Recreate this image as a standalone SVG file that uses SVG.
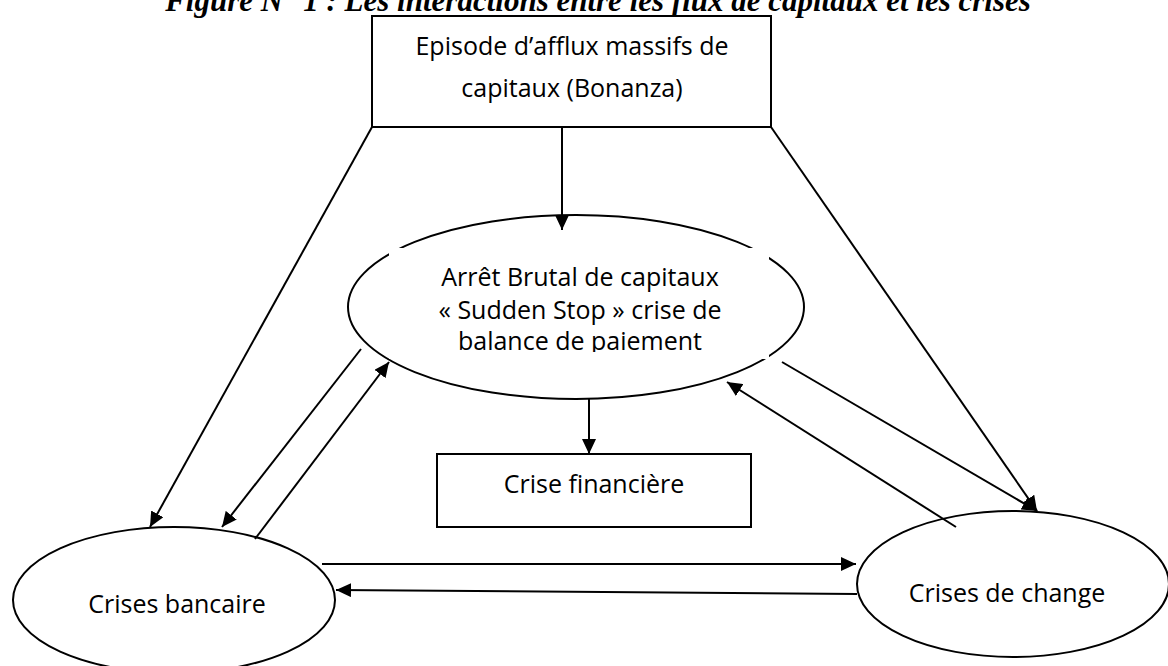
<svg xmlns="http://www.w3.org/2000/svg" width="1168" height="666" viewBox="0 0 1168 666">
<style>
.box{fill:#fff;stroke:#000;stroke-width:2}
.lbl{font-family:"Open Sans","Liberation Sans",sans-serif;font-size:25px;fill:#000;text-anchor:middle}
.title{font-family:"Liberation Serif","Times New Roman",serif;font-size:31px;font-weight:bold;font-style:italic;fill:#000;text-anchor:middle}
.cn line{stroke:#000;stroke-width:2;marker-end:url(#ah)}
</style>
<defs>
<marker id="ah" markerUnits="userSpaceOnUse" markerWidth="16" markerHeight="14" refX="15" refY="7" orient="auto">
<path d="M0,0 L15,7 L0,14 z" fill="#000"/>
</marker>
<clipPath id="ctext"><rect x="389" y="248" width="380" height="104"/></clipPath>
</defs>
<rect width="1168" height="666" fill="#fff"/>
<text class="title" x="598" y="11">Figure N° 1 : Les interactions entre les flux de capitaux et les crises</text>

<g id="n-bonanza">
<rect class="box" x="372" y="16" width="399" height="111"/>
<text class="lbl" x="572" y="55">Episode d’afflux massifs de</text>
<text class="lbl" x="572" y="97">capitaux (Bonanza)</text>
</g>

<g id="n-suddenstop">
<ellipse class="box" cx="576" cy="307" rx="228" ry="92"/>
<rect x="389" y="248" width="380" height="111" fill="#fff"/>
<g clip-path="url(#ctext)">
<text class="lbl" x="580" y="286">Arrêt Brutal de capitaux</text>
<text class="lbl" x="580" y="319">« Sudden Stop » crise de</text>
<text class="lbl" x="580" y="350">balance de paiement</text>
</g>
</g>

<g id="n-financiere">
<rect class="box" x="437" y="454" width="314" height="73"/>
<text class="lbl" x="594" y="493">Crise financière</text>
</g>

<g id="n-bancaire">
<ellipse class="box" cx="174" cy="600" rx="161" ry="73"/>
<text class="lbl" x="177" y="613">Crises bancaire</text>
</g>

<g id="n-change">
<ellipse class="box" cx="1013" cy="584" rx="156" ry="73"/>
<text class="lbl" x="1007" y="602">Crises de change</text>
</g>

<g id="connectors" class="cn">
<line x1="562" y1="127" x2="562" y2="230"/>
<line x1="372" y1="127" x2="150" y2="527"/>
<line x1="771" y1="127" x2="1037" y2="511"/>
<line x1="589" y1="399" x2="589" y2="454"/>
<line x1="361" y1="349" x2="222" y2="527"/>
<line x1="255" y1="539" x2="389" y2="362"/>
<line x1="782" y1="362" x2="1037" y2="511"/>
<line x1="956" y1="527" x2="727" y2="382"/>
<line x1="322" y1="564" x2="856" y2="564"/>
<line x1="857" y1="594" x2="336" y2="590"/>
</g>
</svg>
